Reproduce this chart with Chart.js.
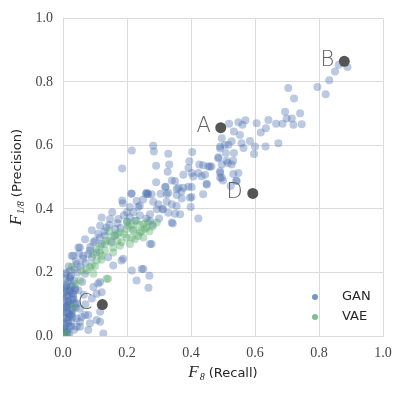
<!DOCTYPE html>
<html>
<head>
<meta charset="utf-8">
<script src="https://cdn.jsdelivr.net/npm/chart.js@4.4.1/dist/chart.umd.min.js"></script>
<style>
  html, body { margin: 0; padding: 0; background: #fff; }
  #wrap { width: 403px; height: 393px; }
</style>
</head>
<body>
<div id="wrap"><canvas id="scatter" width="403" height="393"></canvas></div>
<script>
// series names
const seriesNames = ['GAN', 'VAE'];

// GAN runs: recall (F8) and precision (F1/8)
const ganX = [
  0.862, 0.889, 0.850, 0.832, 0.795, 0.821, 0.704, 0.722, 0.741, 0.715, 0.720, 0.746, 0.694, 0.699,
  0.686, 0.666, 0.642, 0.605, 0.634, 0.618, 0.570, 0.548, 0.561, 0.519, 0.534, 0.553, 0.584, 0.558,
  0.496, 0.527, 0.491, 0.517, 0.564, 0.600, 0.633, 0.673, 0.509, 0.534, 0.597, 0.486, 0.511, 0.532,
  0.496, 0.527, 0.459, 0.438, 0.491, 0.532, 0.548, 0.444, 0.449, 0.496, 0.543, 0.438, 0.524, 0.515,
  0.500, 0.541,
  0.282, 0.284, 0.329, 0.404, 0.395, 0.332, 0.291, 0.327, 0.392, 0.426, 0.454, 0.464, 0.485, 0.491,
  0.506, 0.376, 0.402, 0.423, 0.433, 0.340, 0.350, 0.291, 0.361, 0.319, 0.491, 0.491, 0.376, 0.402,
  0.215, 0.185, 0.355, 0.370, 0.392, 0.407, 0.215, 0.261, 0.266, 0.324, 0.397, 0.185, 0.321, 0.449,
  0.264, 0.277, 0.305, 0.329, 0.355, 0.371, 0.402, 0.282, 0.298, 0.324, 0.340, 0.355, 0.399, 0.313,
  0.329, 0.350, 0.366, 0.272, 0.293, 0.423, 0.343, 0.272, 0.272, 0.251, 0.213, 0.187, 0.209, 0.235,
  0.259, 0.154, 0.121, 0.147, 0.173, 0.209, 0.225, 0.090, 0.116, 0.136, 0.163, 0.110, 0.131, 0.163,
  0.069, 0.095, 0.121, 0.152, 0.053, 0.084, 0.105, 0.032, 0.063, 0.090, 0.141, 0.340, 0.277, 0.188,
  0.215, 0.230, 0.246, 0.267, 0.270, 0.157, 0.183,
  0.126, 0.079, 0.116, 0.084, 0.058, 0.079, 0.053, 0.043, 0.105, 0.116, 0.032, 0.038, 0.095, 0.038,
  0.022, 0.069, 0.022, 0.043, 0.063, 0.079, 0.027, 0.011, 0.110, 0.121, 0.090, 0.105, 0.116, 0.053,
  0.069, 0.043, 0.032, 0.048, 0.048, 0.043, 0.053,
  0.005, 0.012, 0.020, 0.008, 0.015, 0.025, 0.003, 0.018, 0.030, 0.010, 0.022, 0.005, 0.028, 0.012,
  0.020, 0.004, 0.030, 0.015, 0.008, 0.025, 0.010, 0.035, 0.018, 0.040, 0.006, 0.026, 0.035, 0.002,
  0.014, 0.030, 0.040, 0.010, 0.027, 0.002, 0.016, 0.035, 0.045, 0.055, 0.060, 0.065, 0.070,
  0.050, 0.070, 0.085, 0.100, 0.115, 0.130, 0.145, 0.170, 0.190, 0.200, 0.220, 0.240, 0.250, 0.230,
  0.200, 0.240, 0.260, 0.280, 0.300, 0.310, 0.180,
  0.004, 0.012, 0.020, 0.007, 0.016, 0.024, 0.003, 0.011, 0.019, 0.028, 0.006, 0.014, 0.022, 0.009,
  0.017, 0.025, 0.004, 0.013, 0.021, 0.008, 0.033, 0.038, 0.015, 0.026
];
const ganY = [
  0.854, 0.847, 0.833, 0.805, 0.784, 0.761, 0.781, 0.748, 0.701, 0.685, 0.665, 0.667, 0.706, 0.685,
  0.668, 0.668, 0.680, 0.670, 0.654, 0.641, 0.679, 0.673, 0.665, 0.668, 0.644, 0.633, 0.614, 0.607,
  0.623, 0.613, 0.597, 0.602, 0.592, 0.597, 0.597, 0.607, 0.576, 0.576, 0.573, 0.563, 0.552, 0.552,
  0.540, 0.540, 0.534, 0.538, 0.513, 0.510, 0.513, 0.508, 0.479, 0.498, 0.488, 0.446, 0.472, 0.545,
  0.490, 0.489,
  0.599, 0.581, 0.574, 0.579, 0.550, 0.540, 0.536, 0.517, 0.529, 0.540, 0.534, 0.534, 0.560, 0.590,
  0.601, 0.508, 0.513, 0.513, 0.503, 0.490, 0.488, 0.484, 0.467, 0.469, 0.519, 0.498, 0.467, 0.469,
  0.584, 0.527, 0.463, 0.455, 0.470, 0.502, 0.449, 0.451, 0.446, 0.446, 0.435, 0.427, 0.470, 0.477,
  0.448, 0.446, 0.448, 0.451, 0.444, 0.433, 0.438, 0.423, 0.415, 0.423, 0.415, 0.409, 0.406, 0.399,
  0.388, 0.385, 0.383, 0.383, 0.399, 0.370, 0.354, 0.363, 0.290, 0.211, 0.448, 0.418, 0.406, 0.406,
  0.448, 0.390, 0.373, 0.368, 0.368, 0.373, 0.363, 0.333, 0.347, 0.342, 0.337, 0.321, 0.316, 0.316,
  0.305, 0.295, 0.290, 0.295, 0.279, 0.269, 0.263, 0.253, 0.253, 0.246, 0.248, 0.357, 0.290, 0.243,
  0.206, 0.175, 0.211, 0.152, 0.190, 0.222, 0.238,
  0.008, 0.019, 0.045, 0.040, 0.060, 0.066, 0.045, 0.029, 0.133, 0.170, 0.123, 0.102, 0.154, 0.144,
  0.185, 0.196, 0.206, 0.227, 0.243, 0.258, 0.253, 0.144, 0.165, 0.138, 0.118, 0.050, 0.076, 0.086,
  0.066, 0.102, 0.133, 0.144, 0.279, 0.055, 0.029,
  0.010, 0.020, 0.005, 0.035, 0.050, 0.030, 0.060, 0.070, 0.080, 0.090, 0.100, 0.110, 0.115, 0.125,
  0.140, 0.150, 0.160, 0.170, 0.180, 0.190, 0.200, 0.210, 0.220, 0.235, 0.075, 0.045, 0.020, 0.025,
  0.005, 0.060, 0.090, 0.155, 0.135, 0.135, 0.105, 0.175, 0.200, 0.220, 0.170, 0.130, 0.100,
  0.260, 0.230, 0.280, 0.300, 0.310, 0.330, 0.350, 0.355, 0.380, 0.390, 0.390, 0.410, 0.430, 0.425,
  0.360, 0.380, 0.370, 0.350, 0.370, 0.400, 0.340,
  0.015, 0.012, 0.028, 0.055, 0.040, 0.065, 0.085, 0.095, 0.060, 0.085, 0.120, 0.130, 0.145, 0.160,
  0.110, 0.155, 0.040, 0.075, 0.180, 0.195, 0.115, 0.150, 0.095, 0.070
];

// VAE runs
const vaeX = [
  0.199, 0.220, 0.240, 0.256, 0.178, 0.157, 0.199, 0.225, 0.251, 0.136, 0.183, 0.209, 0.116, 0.157,
  0.131, 0.095, 0.121, 0.105, 0.058, 0.136, 0.095, 0.053, 0.038, 0.011, 0.027, 0.105, 0.084, 0.157,
  0.116, 0.131, 0.178, 0.215, 0.261, 0.293, 0.251, 0.220, 0.230, 0.204, 0.168, 0.147, 0.074, 0.141,
  0.032, 0.090, 0.006, 0.240, 0.270, 0.235, 0.190, 0.265, 0.280, 0.200, 0.215, 0.245, 0.170, 0.145,
  0.120, 0.100
];
const vaeY = [
  0.337, 0.331, 0.326, 0.337, 0.326, 0.316, 0.310, 0.305, 0.310, 0.300, 0.295, 0.290, 0.284, 0.279,
  0.269, 0.258, 0.253, 0.274, 0.206, 0.180, 0.196, 0.175, 0.165, 0.008, 0.217, 0.238, 0.217, 0.263,
  0.262, 0.290, 0.284, 0.310, 0.342, 0.357, 0.352, 0.336, 0.363, 0.347, 0.321, 0.300, 0.206, 0.180,
  0.092, 0.222, 0.003, 0.350, 0.330, 0.315, 0.320, 0.360, 0.345, 0.360, 0.350, 0.330, 0.300, 0.330,
  0.240, 0.220
];

// highlighted runs A-D
const markLabels = ['A', 'B', 'C', 'D'];
const markX = [0.493, 0.879, 0.123, 0.593];
const markY = [0.656, 0.865, 0.099, 0.449];

// axis ticks
const tickValues = [0, 0.2, 0.4, 0.6, 0.8, 1.0];

const toPoints = (xs, ys) => xs.map((x, i) => ({ x: x, y: ys[i] }));

const ganColor = 'rgba(76, 114, 176, 0.38)';
const vaeColor = 'rgba(85, 168, 104, 0.38)';
const legendColors = ['rgba(76, 114, 176, 0.75)', 'rgba(85, 168, 104, 0.75)'];

// annotation letters, legend and the mixed-font axis titles
const extraText = {
  id: 'extraText',
  afterDatasetsDraw(chart) {
    const c = chart.ctx;
    const xs = chart.scales.x, ys = chart.scales.y;
    const area = chart.chartArea;
    c.save();

    // letters next to the highlighted runs
    c.font = '200 21px "DejaVu Sans", sans-serif';
    c.fillStyle = '#606060';
    c.textAlign = 'right';
    c.textBaseline = 'middle';
    markLabels.forEach((t, i) => {
      c.fillText(t, xs.getPixelForValue(markX[i]) - 10, ys.getPixelForValue(markY[i]) - 1);
    });

    // legend
    c.font = '13px "DejaVu Sans", sans-serif';
    c.textAlign = 'left';
    seriesNames.forEach((name, i) => {
      const y = area.bottom - 39 + i * 20;
      c.fillStyle = legendColors[i];
      c.beginPath();
      c.arc(area.right - 68, y, 3, 0, Math.PI * 2);
      c.fill();
      c.fillStyle = '#262626';
      c.fillText(name, area.right - 41, y);
    });

    c.textBaseline = 'alphabetic';
    c.fillStyle = '#262626';
    const fF = 'italic 17px "Liberation Serif", serif';
    const fSub = 'italic 10px "Liberation Serif", serif';
    const fTxt = '13px "DejaVu Sans", sans-serif';

    const measure = (sub, rest) => {
      c.font = fF; const wF = c.measureText('F').width;
      c.font = fSub; const wS = c.measureText(sub).width;
      c.font = fTxt; const wT = c.measureText(rest).width;
      return { wF, wS, wT, total: wF + 1 + wS + 4 + wT };
    };

    // x title: F_8 (Recall)
    let m = measure('8', '(Recall)');
    let x0 = (area.left + area.right) / 2 - m.total / 2;
    const by = 377;
    c.font = fF; c.fillText('F', x0, by);
    c.font = fSub; c.fillText('8', x0 + m.wF + 1, by + 3);
    c.font = fTxt; c.fillText('(Recall)', x0 + m.wF + 1 + m.wS + 4, by);

    // y title: F_1/8 (Precision), rotated
    m = measure('1/8', '(Precision)');
    c.translate(21, (area.top + area.bottom) / 2 + m.total / 2);
    c.rotate(-Math.PI / 2);
    c.font = fF; c.fillText('F', 0, 0);
    c.font = fSub; c.fillText('1/8', m.wF + 1, 3);
    c.font = fTxt; c.fillText('(Precision)', m.wF + 1 + m.wS + 4, 0);

    c.restore();
  }
};

const axisOpts = (fitFn, pad) => ({
  type: 'linear',
  min: 0,
  max: 1,
  afterFit: fitFn,
  afterBuildTicks: scale => { scale.ticks = tickValues.map(v => ({ value: v })); },
  ticks: {
    callback: v => Number(v).toFixed(1),
    color: '#444',
    font: { family: '"Liberation Serif", serif', size: 14 },
    padding: pad
  },
  grid: { color: '#dadada', lineWidth: 1, drawTicks: false },
  border: { color: '#dadada', width: 1 }
});

const ctx = document.getElementById('scatter').getContext('2d');
const chart = new Chart(ctx, {
  type: 'scatter',
  data: {
    datasets: [
      {
        label: 'marks',
        data: toPoints(markX, markY),
        backgroundColor: '#555555',
        pointRadius: 5.5,
        borderWidth: 0,
        order: 0
      },
      {
        label: seriesNames[1],
        data: toPoints(vaeX, vaeY),
        backgroundColor: vaeColor,
        pointRadius: 4,
        borderWidth: 0,
        order: 1
      },
      {
        label: seriesNames[0],
        data: toPoints(ganX, ganY),
        backgroundColor: ganColor,
        pointRadius: 4,
        borderWidth: 0,
        order: 2
      }
    ]
  },
  options: {
    responsive: false,
    animation: false,
    layout: { padding: { left: 0, top: 16, right: 20, bottom: 0 } },
    plugins: {
      legend: { display: false },
      tooltip: { enabled: false }
    },
    scales: {
      x: axisOpts(s => { s.height = 57; }, 9),
      y: axisOpts(s => { s.width = 63; }, 10)
    }
  },
  plugins: [extraText]
});
</script>
</body>
</html>
